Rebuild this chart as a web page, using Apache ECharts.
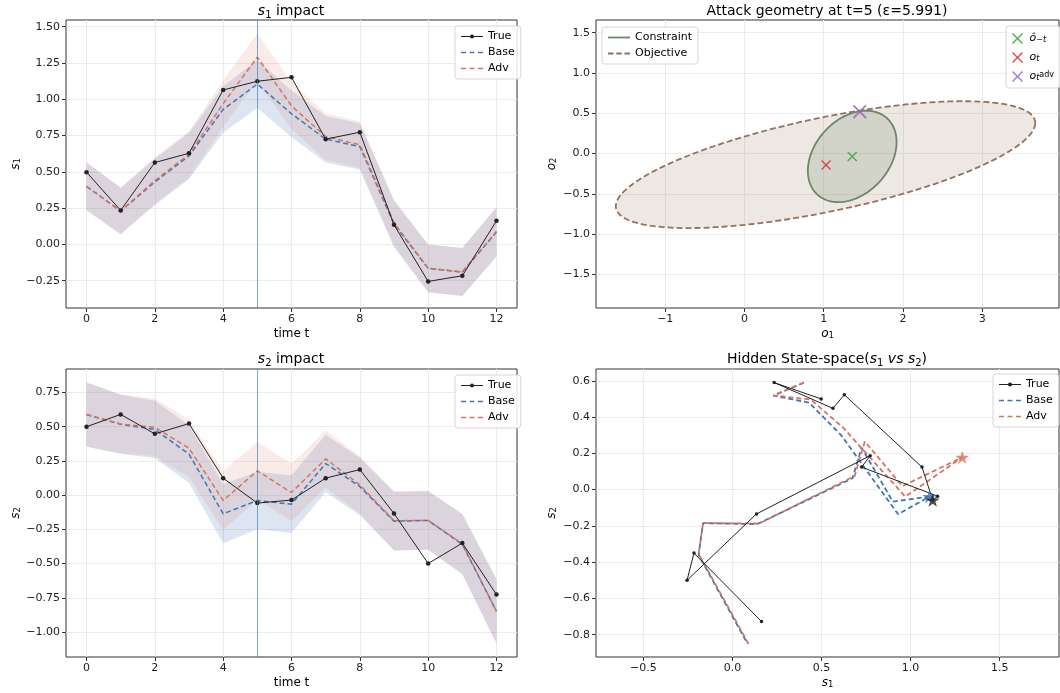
<!DOCTYPE html>
<html lang="en">
<head>
<meta charset="UTF-8">
<title>Attack impact</title>
<script src="https://cdn.jsdelivr.net/npm/echarts@6/dist/echarts.min.js"></script>
<style>
  html, body { margin: 0; padding: 0; background: #fff; }
  #main { width: 1060px; height: 693px; }
</style>
</head>
<body>
<div id="main"></div>
<script>
// ---- data ----
var steps = [0, 1, 2, 3, 4, 5, 6, 7, 8, 9, 10, 11, 12];
var attackStep = 5;

var s1True = [0.498, 0.234, 0.564, 0.628, 1.064, 1.124, 1.151, 0.725, 0.773, 0.135, -0.255, -0.216, 0.163];
var s1Base = [0.40, 0.23, 0.43, 0.61, 0.93, 1.105, 0.90, 0.725, 0.674, 0.14, -0.165, -0.19, 0.085];
var s1Adv  = [0.40, 0.23, 0.44, 0.62, 0.97, 1.29, 0.954, 0.743, 0.686, 0.15, -0.165, -0.19, 0.09];
var s1Width = [0.165, 0.16, 0.16, 0.16, 0.16, 0.165, 0.16, 0.16, 0.16, 0.16, 0.165, 0.165, 0.17];

var s2True = [0.50, 0.59, 0.448, 0.523, 0.124, -0.058, -0.036, 0.124, 0.187, -0.134, -0.50, -0.35, -0.727];
var s2Base = [0.589, 0.518, 0.48, 0.30, -0.136, -0.039, -0.066, 0.231, 0.063, -0.19, -0.185, -0.36, -0.85];
var s2Adv  = [0.59, 0.52, 0.496, 0.343, -0.039, 0.178, 0.019, 0.265, 0.075, -0.187, -0.185, -0.355, -0.85];
var s2Width = [0.235, 0.215, 0.21, 0.21, 0.215, 0.21, 0.21, 0.21, 0.21, 0.215, 0.215, 0.22, 0.235];

// attack geometry (centre + scaled covariance [xx, xy, yy])
var oHat = [1.36, -0.035];
var oT = [1.03, -0.14];
var oAdv = [1.455, 0.52];
var constraintCov = [0.3136, 0.10, 0.3215];
var objectiveCentre = [1.023, -0.137];
var objectiveCov = [7.007, 1.365, 0.619];

// tick labels
var timeTicks = [0, 2, 4, 6, 8, 10, 12];
var s1Ticks = [-0.25, 0, 0.25, 0.5, 0.75, 1, 1.25, 1.5];
var s2Ticks = [-1, -0.75, -0.5, -0.25, 0, 0.25, 0.5, 0.75];
var o1Ticks = [-1, 0, 1, 2, 3];
var o2Ticks = [-1.5, -1, -0.5, 0, 0.5, 1, 1.5];
var hxTicks = [-0.5, 0, 0.5, 1, 1.5];
var hyTicks = [-0.8, -0.6, -0.4, -0.2, 0, 0.2, 0.4, 0.6];

// ---- styling ----
var FONT = 'DejaVu Sans';
var BLUE = '#3f76b4';
var ORANGE = '#d8735f';
var BLACK = '#222222';
var XMARK = 'path://M-1,-0.8L-0.8,-1L0,-0.2L0.8,-1L1,-0.8L0.2,0L1,0.8L0.8,1L0,0.2L-0.8,1L-1,0.8L-0.2,0Z';
var STAR = 'path://M0,-1L0.2245,-0.309L0.9511,-0.309L0.3633,0.118L0.5878,0.809L0,0.382L-0.5878,0.809L-0.3633,0.118L-0.9511,-0.309L-0.2245,-0.309Z';
// legend glyphs (filled shapes, 22 wide)
var ICON_TRUE = 'path://M0,2.5L22,2.5L22,3.5L0,3.5Z M13,3A2,2,0,1,1,9,3A2,2,0,1,1,13,3Z';
var ICON_DASH = 'path://M0,0L5,0L5,1.5L0,1.5Z M8.5,0L13.5,0L13.5,1.5L8.5,1.5Z M17,0L22,0L22,1.5L17,1.5Z';
var ICON_SOLID = 'path://M0,0L22,0L22,1.8L0,1.8Z';
var ICON_DASH2 = 'path://M0,0L5.5,0L5.5,1.8L0,1.8Z M8.25,0L13.75,0L13.75,1.8L8.25,1.8Z M16.5,0L22,0L22,1.8L16.5,1.8Z';

var rich = {
    it: { fontFamily: FONT, fontStyle: 'italic', fontSize: 12, color: '#000' },
    sub: { fontFamily: FONT, fontSize: 8.5, verticalAlign: 'bottom', color: '#000' },
    tit: { fontFamily: FONT, fontStyle: 'italic', fontSize: 14, color: '#000' },
    tsub: { fontFamily: FONT, fontSize: 10, verticalAlign: 'bottom', color: '#000' },
    lit: { fontFamily: FONT, fontStyle: 'italic', fontSize: 11, color: '#000' },
    lsub: { fontFamily: FONT, fontStyle: 'italic', fontSize: 8, verticalAlign: 'bottom', color: '#000' },
    lsup: { fontFamily: FONT, fontSize: 8, verticalAlign: 'top', color: '#000' }
};

function fmt(v, d) {
    return (v < -1e-9 ? '\u2212' : '') + Math.abs(v).toFixed(d);
}

function zip(xs, ys) {
    return xs.map(function (x, i) { return [x, ys[i]]; });
}

function axis(gi, min, max, ticks, dec, name, gap) {
    return {
        type: 'value', gridIndex: gi, min: min, max: max,
        name: name, nameLocation: 'middle', nameGap: gap,
        nameTextStyle: { fontFamily: FONT, fontSize: 12, color: '#000', rich: rich },
        axisLine: { show: false, onZero: false },
        axisTick: { show: true, length: 4, lineStyle: { color: '#333' }, customValues: ticks },
        axisLabel: {
            customValues: ticks, margin: 6, fontFamily: FONT, fontSize: 11, color: '#222',
            formatter: function (v) { return fmt(v, dec); }
        },
        splitLine: { show: true, lineStyle: { color: '#ececec', width: 1 } }
    };
}

function band(gi, mean, width, color) {
    var lo = mean.map(function (m, i) { return m - width[i]; });
    var hi = mean.map(function (m, i) { return m + width[i]; });
    return {
        type: 'custom', xAxisIndex: gi, yAxisIndex: gi, silent: true, z: 1,
        data: steps.map(function (t, i) { return [t, lo[i], hi[i]]; }),
        encode: { x: 0, y: [1, 2] },
        renderItem: function (params, api) {
            if (params.dataIndex !== 0) return null;
            var pts = [];
            for (var i = 0; i < steps.length; i++) pts.push(api.coord([steps[i], hi[i]]));
            for (var j = steps.length - 1; j >= 0; j--) pts.push(api.coord([steps[j], lo[j]]));
            return { type: 'polygon', shape: { points: pts }, style: { fill: color } };
        }
    };
}

function ellipse(centre, cov, fill, stroke, dash) {
    return {
        type: 'custom', xAxisIndex: 1, yAxisIndex: 1, silent: true, z: 1,
        data: [centre],
        encode: { x: 0, y: 1 },
        renderItem: function (params, api) {
            var a = Math.sqrt(cov[0]);
            var b = cov[1] / a;
            var c = Math.sqrt(cov[2] - b * b);
            var pts = [];
            for (var k = 0; k <= 160; k++) {
                var th = 2 * Math.PI * k / 160;
                pts.push(api.coord([centre[0] + a * Math.cos(th), centre[1] + b * Math.cos(th) + c * Math.sin(th)]));
            }
            return {
                type: 'polygon', shape: { points: pts },
                style: { fill: fill, stroke: stroke, lineWidth: 1.8, lineDash: dash }
            };
        }
    };
}

function timeSeries(gi, tr, base, adv) {
    return [
        {
            name: 'True', type: 'line', xAxisIndex: gi, yAxisIndex: gi, z: 4,
            data: zip(steps, tr), symbol: 'circle', symbolSize: 4.5,
            itemStyle: { color: BLACK }, lineStyle: { color: BLACK, width: 1 }
        },
        {
            name: 'Base', type: 'line', xAxisIndex: gi, yAxisIndex: gi, z: 3,
            data: zip(steps, base), showSymbol: false, symbol: 'none',
            itemStyle: { color: BLUE }, lineStyle: { color: BLUE, width: 1.5, type: [5, 3] },
            markLine: {
                silent: true, symbol: 'none', label: { show: false },
                lineStyle: { color: 'rgba(70,130,180,0.7)', width: 1, type: 'solid' },
                data: [{ xAxis: attackStep }]
            }
        },
        {
            name: 'Adv', type: 'line', xAxisIndex: gi, yAxisIndex: gi, z: 3,
            data: zip(steps, adv), showSymbol: false, symbol: 'none',
            itemStyle: { color: ORANGE }, lineStyle: { color: ORANGE, width: 1.5, type: [5, 3] }
        }
    ];
}

function legendBox(data, left, top, extra) {
    var l = {
        data: data, orient: 'vertical', left: left, top: top,
        backgroundColor: 'rgba(255,255,255,0.85)', borderColor: '#d6d6d6', borderWidth: 1, borderRadius: 3,
        padding: [5, 6, 5, 6], itemGap: 5, itemWidth: 22, itemHeight: 4,
        textStyle: { fontFamily: FONT, fontSize: 11, color: '#000', rich: rich },
        selectedMode: false
    };
    for (var k in extra) l[k] = extra[k];
    return l;
}

var stateLegend = [
    { name: 'True', icon: ICON_TRUE },
    { name: 'Base', icon: ICON_DASH },
    { name: 'Adv', icon: ICON_DASH }
];
var legendNames = { 'ô₋ₜ': '{lit|ô}{lsub|−t}', 'oₜ': '{lit|o}{lsub|t}', 'oₜᵃᵈᵛ': '{lit|o}{lsub|t}{lsup|adv}' };

var chart = echarts.init(document.getElementById('main'));

var option = {
    animation: false,
    backgroundColor: '#fff',
    textStyle: { fontFamily: FONT },
    title: [
        { text: '{tit|s}{tsub|1} impact', left: 291, top: 2, textAlign: 'center', padding: 0,
          textStyle: { fontFamily: FONT, fontSize: 14, fontWeight: 'normal', color: '#000', lineHeight: 18, rich: rich } },
        { text: 'Attack geometry at t=5 (ε=5.991)', left: 827, top: 2, textAlign: 'center', padding: 0,
          textStyle: { fontFamily: FONT, fontSize: 14, fontWeight: 'normal', color: '#000', lineHeight: 18 } },
        { text: '{tit|s}{tsub|2} impact', left: 291, top: 350, textAlign: 'center', padding: 0,
          textStyle: { fontFamily: FONT, fontSize: 14, fontWeight: 'normal', color: '#000', lineHeight: 18, rich: rich } },
        { text: 'Hidden State-space({tit|s}{tsub|1} {tit|vs} {tit|s}{tsub|2})', left: 827, top: 350, textAlign: 'center', padding: 0,
          textStyle: { fontFamily: FONT, fontSize: 14, fontWeight: 'normal', color: '#000', lineHeight: 18, rich: rich } }
    ],
    grid: [
        { left: 66, top: 20, width: 451, height: 288, show: true, borderColor: '#333', borderWidth: 1, backgroundColor: 'transparent' },
        { left: 596, top: 20, width: 463, height: 288, show: true, borderColor: '#333', borderWidth: 1, backgroundColor: 'transparent' },
        { left: 66, top: 369, width: 451, height: 288, show: true, borderColor: '#333', borderWidth: 1, backgroundColor: 'transparent' },
        { left: 596, top: 369, width: 463, height: 288, show: true, borderColor: '#333', borderWidth: 1, backgroundColor: 'transparent' }
    ],
    xAxis: [
        axis(0, -0.6, 12.6, timeTicks, 0, 'time t', 20),
        axis(1, -1.874, 3.97, o1Ticks, 0, '{it|o}{sub|1}', 20),
        axis(2, -0.6, 12.6, timeTicks, 0, 'time t', 20),
        axis(3, -0.766, 1.833, hxTicks, 1, '{it|s}{sub|1}', 20)
    ],
    yAxis: [
        axis(0, -0.438, 1.546, s1Ticks, 2, '{it|s}{sub|1}', 44),
        axis(1, -1.915, 1.657, o2Ticks, 1, '{it|o}{sub|2}', 38),
        axis(2, -1.183, 0.922, s2Ticks, 2, '{it|s}{sub|2}', 44),
        axis(3, -0.923, 0.665, hyTicks, 1, '{it|s}{sub|2}', 38)
    ],
    legend: [
        legendBox(stateLegend, 455, 26, {}),
        legendBox(stateLegend, 455, 375, {}),
        legendBox([{ name: 'Constraint', icon: ICON_SOLID }, { name: 'Objective', icon: ICON_DASH2 }], 602, 27, {}),
        legendBox(['ô₋ₜ', 'oₜ', 'oₜᵃᵈᵛ'], 1006, 26, {
            itemWidth: 14, itemHeight: 11, itemGap: 8, padding: [7, 6, 6, 6],
            formatter: function (n) { return legendNames[n]; }
        }),
        legendBox(stateLegend, 993, 374, {})
    ],
    series: [].concat(
        [band(0, s1Base, s1Width, 'rgba(68,119,178,0.19)'), band(0, s1Adv, s1Width, 'rgba(216,115,95,0.14)')],
        timeSeries(0, s1True, s1Base, s1Adv),
        [band(2, s2Base, s2Width, 'rgba(68,119,178,0.19)'), band(2, s2Adv, s2Width, 'rgba(216,115,95,0.14)')],
        timeSeries(2, s2True, s2Base, s2Adv),
        [
            ellipse(objectiveCentre, objectiveCov, 'rgba(140,100,80,0.15)', '#94725f', [6, 3]),
            ellipse(oHat, constraintCov, 'rgba(100,130,90,0.2)', '#6e8764', null),
            { name: 'Constraint', type: 'line', xAxisIndex: 1, yAxisIndex: 1, data: [], symbol: 'none',
              itemStyle: { color: '#6e8764' }, lineStyle: { color: '#6e8764', width: 1.8 } },
            { name: 'Objective', type: 'line', xAxisIndex: 1, yAxisIndex: 1, data: [], symbol: 'none',
              itemStyle: { color: '#94725f' }, lineStyle: { color: '#94725f', width: 1.8, type: [6, 3] } },
            { name: 'ô₋ₜ', type: 'scatter', xAxisIndex: 1, yAxisIndex: 1, z: 5, data: [oHat],
              symbol: XMARK, symbolSize: 10, itemStyle: { color: '#2ca02c' } },
            { name: 'oₜ', type: 'scatter', xAxisIndex: 1, yAxisIndex: 1, z: 5, data: [oT],
              symbol: XMARK, symbolSize: 10, itemStyle: { color: '#d62728' } },
            { name: 'oₜᵃᵈᵛ', type: 'scatter', xAxisIndex: 1, yAxisIndex: 1, z: 5, data: [oAdv],
              symbol: XMARK, symbolSize: 14, itemStyle: { color: '#9467bd' } }
        ],
        [
            { name: 'Base', type: 'line', xAxisIndex: 3, yAxisIndex: 3, z: 2, data: zip(s1Base, s2Base),
              symbol: 'none', itemStyle: { color: BLUE }, lineStyle: { color: BLUE, width: 1.8, type: [5, 3] } },
            { name: 'Adv', type: 'line', xAxisIndex: 3, yAxisIndex: 3, z: 2, data: zip(s1Adv, s2Adv),
              symbol: 'none', itemStyle: { color: ORANGE }, lineStyle: { color: ORANGE, width: 1.8, type: [5, 3] } },
            { name: 'True', type: 'line', xAxisIndex: 3, yAxisIndex: 3, z: 3, data: zip(s1True, s2True),
              symbol: 'circle', symbolSize: 3.5, itemStyle: { color: BLACK }, lineStyle: { color: BLACK, width: 1 } },
            { name: 'base t=5', type: 'scatter', xAxisIndex: 3, yAxisIndex: 3, z: 4,
              data: [[s1Base[attackStep], s2Base[attackStep]]], symbol: STAR, symbolKeepAspect: true, symbolSize: 14,
              itemStyle: { color: BLUE } },
            { name: 'adv t=5', type: 'scatter', xAxisIndex: 3, yAxisIndex: 3, z: 4,
              data: [[s1Adv[attackStep], s2Adv[attackStep]]], symbol: STAR, symbolKeepAspect: true, symbolSize: 14,
              itemStyle: { color: ORANGE } },
            { name: 'true t=5', type: 'scatter', xAxisIndex: 3, yAxisIndex: 3, z: 5,
              data: [[s1True[attackStep], s2True[attackStep]]], symbol: STAR, symbolKeepAspect: true, symbolSize: 14,
              itemStyle: { color: BLACK } }
        ]
    )
};

chart.setOption(option);
</script>
</body>
</html>
